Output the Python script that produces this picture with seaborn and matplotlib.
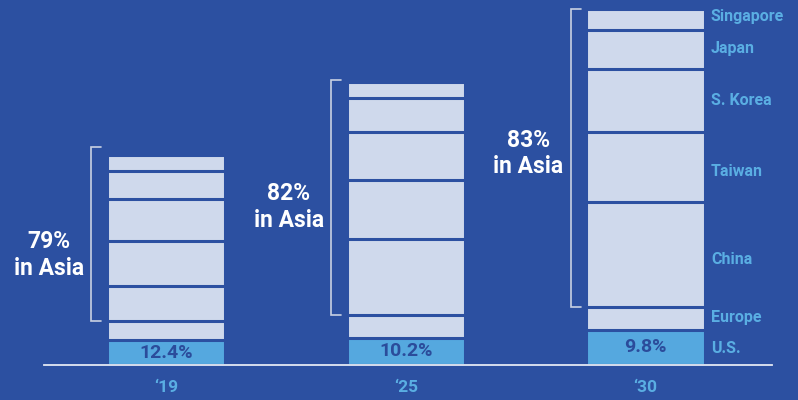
import matplotlib
matplotlib.use("Agg")
import matplotlib.pyplot as plt
import seaborn as sns
import numpy as np
import pandas as pd

# ---- data (relative capacity, '19 total = 100) ----
years = ["\u201819", "\u201825", "\u201830"]
regions = ["U.S.", "Europe", "China", "Taiwan", "S. Korea", "Japan", "Singapore"]
us = [11.8, 13.2, 17.0]
europe = [9.1, 10.8, 11.0]
china = [17.0, 36.5, 50.2]
taiwan = [21.8, 28.1, 33.8]
s_korea = [20.2, 23.3, 30.0]
japan = [13.0, 16.1, 19.0]
singapore = [7.8, 7.7, 10.1]
us_share_labels = ["12.4%", "10.2%", "9.8%"]
asia_share_labels = ["79%", "82%", "83%"]

# ---- style ----
BG = "#2C50A1"
SEG = "#CFD9EC"
US_C = "#55A8DF"
LABEL_C = "#5AAEE3"
DARK = "#2B4C9B"
BRACKET = "#C9D1E3"

sns.set_theme(style="white")
plt.rcParams["font.family"] = ["Roboto", "DejaVu Sans"]

fig = plt.figure(figsize=(7.98, 4.0), dpi=100, facecolor=BG)
ax = fig.add_axes([44 / 798, 35 / 400, 728 / 798, 365 / 400])
ax.set_facecolor(BG)

series = [us, europe, china, taiwan, s_korea, japan, singapore]
arr = np.array(series)
cum = np.cumsum(arr, axis=0)
colors = [US_C] + [SEG] * 6

for i in range(len(series) - 1, -1, -1):
    df = pd.DataFrame({"year": years, "value": cum[i]})
    sns.barplot(data=df, x="year", y="value", order=years, color=colors[i],
                saturation=1, width=0.493, edgecolor=BG, linewidth=2.2,
                errorbar=None, ax=ax)

ax.set_xlim(-0.511, 2.528)
ax.set_ylim(0, 175.2)

# brackets and "in Asia" labels
label_dy = [-8, -4, 2]
bracket_pad = [4, 1, 0]
for i in range(len(years)):
    lo = cum[1, i]
    hi = cum[-1, i] + bracket_pad[i]
    xb = i - 0.313
    ax.plot([xb + 0.042, xb, xb, xb + 0.042], [lo, lo, hi, hi],
            color=BRACKET, lw=1.2, solid_joinstyle="miter", clip_on=False)
    mid = (lo + cum[-1, i]) / 2 + label_dy[i]
    ax.text(i - 0.49, mid, f"{asia_share_labels[i]}\nin Asia", ha="center",
            va="center", color="white", fontsize=16.5, fontweight="bold",
            linespacing=1.2)
    ax.text(i, us[i] / 2, us_share_labels[i], ha="center", va="center",
            color=DARK, fontsize=14, fontweight="bold")

# region labels next to last bar
last = len(years) - 1
label_shift = [-0.5, 0.5, -2.5, -2.0, 0, 0.5, 1.0]
for j, name in enumerate(regions):
    y = cum[j, last] - arr[j, last] / 2 + label_shift[j]
    ax.text(last + 0.273, y, name, ha="left", va="center", color=LABEL_C,
            fontsize=11.5, fontweight="bold")

ax.set_xticks(range(len(years)))
ax.set_xticklabels(years, color=LABEL_C, fontsize=12.5, fontweight="bold")
ax.tick_params(axis="x", length=0, pad=11)
ax.set_yticks([])
ax.set_xlabel("")
ax.set_ylabel("")
for s in ["top", "right", "left"]:
    ax.spines[s].set_visible(False)
ax.spines["bottom"].set_color("#E3E8F3")
ax.spines["bottom"].set_linewidth(1.3)

fig.savefig("out.png", dpi=100, facecolor=BG)
